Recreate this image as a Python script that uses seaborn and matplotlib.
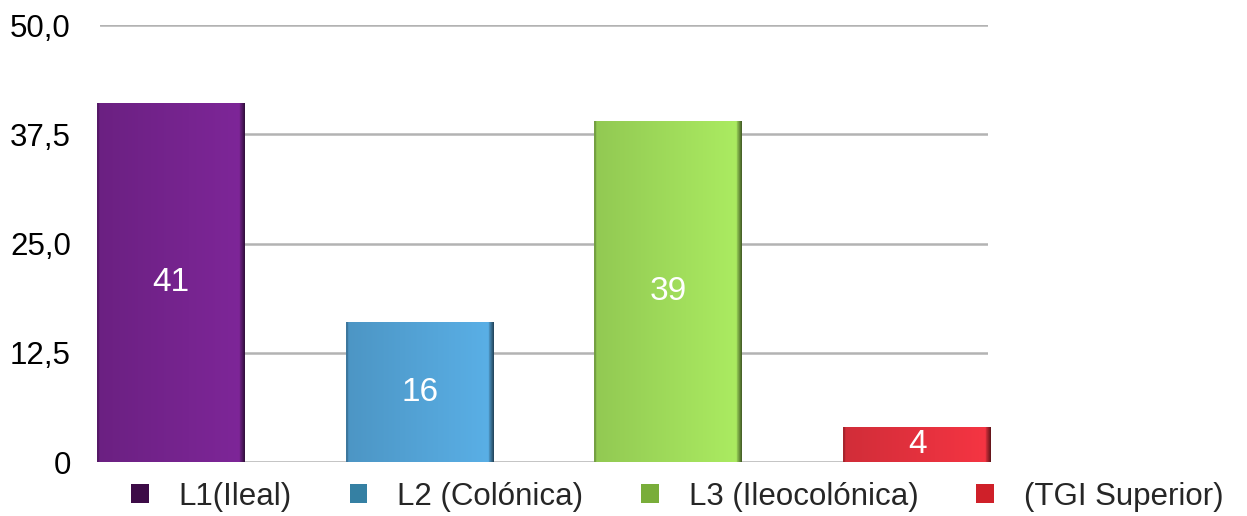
import numpy as np
import matplotlib
matplotlib.use("Agg")
import matplotlib.pyplot as plt
from matplotlib.patches import Patch
from matplotlib.colors import to_rgb
import seaborn as sns

# Chart data
categories = ["L1(Ileal)", "L2 (Colónica)", "L3 (Ileocolónica)", "(TGI Superior)"]
values = [41, 16, 39, 4]
tick_values = [0, 12.5, 25, 37.5, 50]
tick_labels = ["0", "12,5", "25,0", "37,5", "50,0"]

# Colours: bar faces and legend swatches
bar_colors = ["#772490", "#55a6da", "#a2df5c", "#e8323f"]
legend_colors = ["#3d0b47", "#3580a3", "#79ad3a", "#cf2029"]

sns.set_theme(style="white")
plt.rcParams["font.family"] = ["Liberation Sans", "DejaVu Sans"]

FS = 22.5

fig = plt.figure(figsize=(12.47, 5.16), dpi=100)
ax = fig.add_axes([100 / 1247, 54 / 516, 888 / 1247, 437 / 516])

sns.barplot(x=categories, y=values, hue=categories, palette=bar_colors,
            width=0.595, saturation=1, legend=False, ax=ax, zorder=3)

# Give each bar a shaded, rounded look with a horizontal gradient
prof = np.linspace(0.9, 1.06, 200)
prof[:3] *= 0.8
prof[-7:] *= np.linspace(0.85, 0.4, 7)
for p, c in zip(ax.patches, bar_colors):
    p.set_clip_on(False)
    p.set_edgecolor("none")
    base = np.array(to_rgb(c))
    grad = np.clip(prof[:, None] * base[None, :], 0, 1)[None, :, :]
    x0, w, h = p.get_x(), p.get_width(), p.get_height()
    im = ax.imshow(grad, extent=[x0, x0 + w, 0, h], aspect="auto",
                   interpolation="bilinear", zorder=4, clip_on=False)
    im.set_clip_path(p)
    ax.text(x0 + w / 2, h / 2, f"{h:g}", color="white", fontsize=24,
            ha="center", va="center", zorder=5)

ax.set_xlim(-0.285, 3.285)
ax.set_ylim(0, 50)
ax.set_yticks(tick_values)
ax.set_yticklabels(tick_labels, fontsize=FS)
ax.set_xticks([])
ax.tick_params(axis="y", length=0, pad=21, colors="#000000")
ax.grid(axis="y", color="#b3b3b3", linewidth=1.8, zorder=1)
ax.set_axisbelow(True)
for s in ax.spines.values():
    s.set_visible(False)
ax.set_xlabel("")
ax.set_ylabel("")

handles = [Patch(facecolor=c, edgecolor="none") for c in legend_colors]
fig.legend(handles, categories, loc="center", bbox_to_anchor=(0.543, 0.037),
           ncol=4, frameon=False, fontsize=FS, handlelength=0.57,
           handleheight=0.57, handletextpad=0.95, columnspacing=1.85,
           borderaxespad=0, borderpad=0)

fig.savefig("out.png", dpi=100)
